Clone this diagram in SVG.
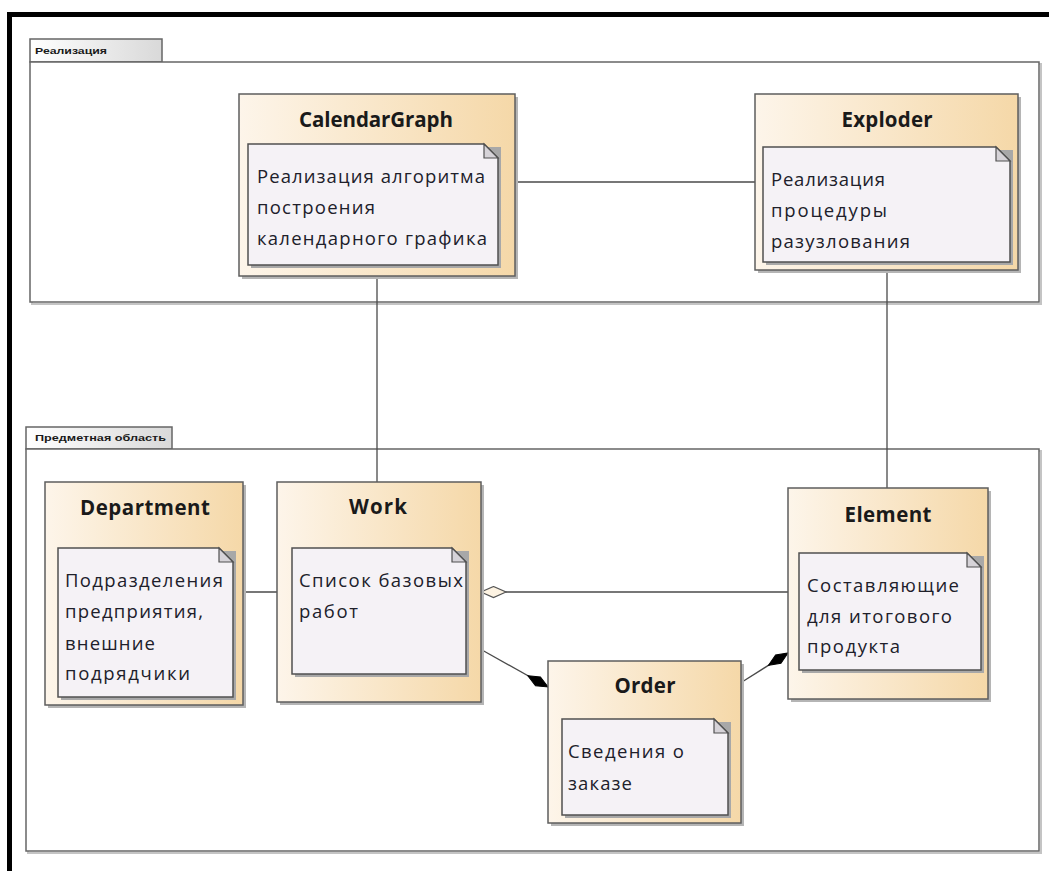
<svg xmlns="http://www.w3.org/2000/svg" width="1049" height="871" viewBox="0 0 1049 871">
  <defs>
    <linearGradient id="nodeFill" x1="0" y1="0" x2="1" y2="0">
      <stop offset="0" stop-color="#fdf5ea"/>
      <stop offset="1" stop-color="#f5d8a8"/>
    </linearGradient>
    <linearGradient id="tabFill" x1="0" y1="0" x2="1" y2="0">
      <stop offset="0" stop-color="#ffffff"/>
      <stop offset="1" stop-color="#d9d9d9"/>
    </linearGradient>
    <marker id="diamondOpen" markerUnits="userSpaceOnUse" viewBox="0 0 27 13" markerWidth="27" markerHeight="13" refX="26" refY="6.5" orient="auto">
      <path d="M1,6.5 L13.5,1 L26,6.5 L13.5,12 Z" fill="#fdf3e2" stroke="#555" stroke-width="1.2"/>
    </marker>
    <marker id="diamondFilled" markerUnits="userSpaceOnUse" viewBox="0 0 25 13" markerWidth="25" markerHeight="13" refX="24" refY="6.5" orient="auto">
      <path d="M1,6.5 L12.5,1.5 L24,6.5 L12.5,11.5 Z" fill="#000" stroke="#000" stroke-width="1"/>
    </marker>
  </defs>
  <style>
    .frame { fill: none; stroke: #000; stroke-width: 5; }
    .pkg { fill: #fff; stroke: #666; stroke-width: 1.5; }
    .pkg-shadow { fill: none; stroke: #c4c4c4; stroke-width: 2; }
    .tab { fill: url(#tabFill); stroke: #666; stroke-width: 1.5; }
    .tab-label { font-family: "Liberation Sans", Arial, sans-serif; font-size: 8.5px; font-weight: bold; fill: #1a1a1a; }
    .node-shadow { fill: #b5b5b5; }
    .node { fill: url(#nodeFill); stroke: #5e5e5e; stroke-width: 1.5; }
    .note-shadow { fill: #a8a8a8; }
    .note { fill: #f5f2f6; stroke: #505050; stroke-width: 1.5; }
    .fold { fill: #d6d3d8; stroke: #505050; stroke-width: 1.2; }
    .title { font-family: "Open Sans", "Noto Sans", sans-serif; font-size: 20.5px; font-weight: bold; fill: #1a1a1a; text-anchor: middle; }
    .body { font-family: "Open Sans", "Noto Sans", sans-serif; font-size: 18.5px; fill: #20202a; }
    .link { fill: none; stroke: #4a4a4a; stroke-width: 1.3; }
  </style>

  <rect width="1049" height="871" fill="#fff"/>

  <!-- diagram frame -->
  <path class="frame" d="M9.5,871 V14.5 H1049"/>

  <!-- packages -->
  <g id="pkg-realization">
    <rect class="pkg-shadow" x="32" y="64" width="1009" height="240"/>
    <rect class="tab" x="30" y="39" width="132" height="23"/>
    <rect class="pkg" x="30" y="62" width="1009" height="240"/>
    <text class="tab-label" x="35" y="54" textLength="72" lengthAdjust="spacingAndGlyphs">Реализация</text>
  </g>
  <g id="pkg-domain">
    <rect class="pkg-shadow" x="28" y="451" width="1013" height="402"/>
    <rect class="tab" x="26" y="427" width="146" height="22"/>
    <rect class="pkg" x="26" y="449" width="1013" height="402"/>
    <text class="tab-label" x="35" y="441" textLength="131" lengthAdjust="spacingAndGlyphs">Предметная область</text>
  </g>

  <!-- connectors -->
  <g id="connectors">
    <path class="link" d="M515,182 H755"/>
    <path class="link" d="M377,276 V482"/>
    <path class="link" d="M887,270 V488"/>
    <path class="link" d="M243,592 H277"/>
    <path class="link" d="M788,592 H481" marker-end="url(#diamondOpen)"/>
    <path class="link" d="M482,650 L548,687" marker-end="url(#diamondFilled)"/>
    <path class="link" d="M742,682 L788,653" marker-end="url(#diamondFilled)"/>
  </g>

  <!-- nodes -->
  <g id="node-calendargraph">
    <rect class="node-shadow" x="242" y="97" width="276" height="182"/>
    <rect class="node" x="239" y="94" width="276" height="182"/>
    <text class="title" x="376" y="127" textLength="154" lengthAdjust="spacing">CalendarGraph</text>
    <rect class="note-shadow" x="251" y="147" width="250" height="121"/>
    <path class="note" d="M248,144 H484 L498,158 V265 H248 Z"/>
    <path class="fold" d="M484,144 V158 H498 Z"/>
    <text class="body" x="257" y="183" textLength="228" lengthAdjust="spacing">Реализация алгоритма</text>
    <text class="body" x="257" y="214" textLength="118" lengthAdjust="spacing">построения</text>
    <text class="body" x="257" y="245" textLength="230" lengthAdjust="spacing">календарного графика</text>
  </g>

  <g id="node-exploder">
    <rect class="node-shadow" x="758" y="97" width="263" height="176"/>
    <rect class="node" x="755" y="94" width="263" height="176"/>
    <text class="title" x="887" y="127" textLength="91" lengthAdjust="spacing">Exploder</text>
    <rect class="note-shadow" x="766" y="150" width="247" height="115"/>
    <path class="note" d="M763,147 H996 L1010,161 V262 H763 Z"/>
    <path class="fold" d="M996,147 V161 H1010 Z"/>
    <text class="body" x="771" y="186" textLength="114" lengthAdjust="spacing">Реализация</text>
    <text class="body" x="771" y="217" textLength="116" lengthAdjust="spacing">процедуры</text>
    <text class="body" x="771" y="248" textLength="139" lengthAdjust="spacing">разузлования</text>
  </g>

  <g id="node-department">
    <rect class="node-shadow" x="48" y="485" width="198" height="223"/>
    <rect class="node" x="45" y="482" width="198" height="223"/>
    <text class="title" x="145" y="515" textLength="130" lengthAdjust="spacing">Department</text>
    <rect class="note-shadow" x="61" y="551" width="175" height="149"/>
    <path class="note" d="M58,548 H219 L233,562 V697 H58 Z"/>
    <path class="fold" d="M219,548 V562 H233 Z"/>
    <text class="body" x="65" y="587" textLength="158" lengthAdjust="spacing">Подразделения</text>
    <text class="body" x="65" y="618" textLength="138" lengthAdjust="spacing">предприятия,</text>
    <text class="body" x="65" y="650" textLength="90" lengthAdjust="spacing">внешние</text>
    <text class="body" x="65" y="680" textLength="125" lengthAdjust="spacing">подрядчики</text>
  </g>

  <g id="node-work">
    <rect class="node-shadow" x="280" y="485" width="204" height="220"/>
    <rect class="node" x="277" y="482" width="204" height="220"/>
    <text class="title" x="378" y="514" textLength="58" lengthAdjust="spacing">Work</text>
    <rect class="note-shadow" x="295" y="551" width="174" height="126"/>
    <path class="note" d="M292,548 H452 L466,562 V674 H292 Z"/>
    <path class="fold" d="M452,548 V562 H466 Z"/>
    <text class="body" x="299" y="587" textLength="164" lengthAdjust="spacing">Список базовых</text>
    <text class="body" x="299" y="618" textLength="59" lengthAdjust="spacing">работ</text>
  </g>

  <g id="node-order">
    <rect class="node-shadow" x="551" y="664" width="193" height="162"/>
    <rect class="node" x="548" y="661" width="193" height="162"/>
    <text class="title" x="645" y="693" textLength="61" lengthAdjust="spacing">Order</text>
    <rect class="note-shadow" x="565" y="722" width="166" height="96"/>
    <path class="note" d="M562,719 H714 L728,733 V815 H562 Z"/>
    <path class="fold" d="M714,719 V733 H728 Z"/>
    <text class="body" x="568" y="758" textLength="116" lengthAdjust="spacing">Сведения о</text>
    <text class="body" x="568" y="790" textLength="64" lengthAdjust="spacing">заказе</text>
  </g>

  <g id="node-element">
    <rect class="node-shadow" x="791" y="491" width="200" height="211"/>
    <rect class="node" x="788" y="488" width="200" height="211"/>
    <text class="title" x="888" y="522" textLength="87" lengthAdjust="spacing">Element</text>
    <rect class="note-shadow" x="802" y="556" width="182" height="117"/>
    <path class="note" d="M799,553 H967 L981,567 V670 H799 Z"/>
    <path class="fold" d="M967,553 V567 H981 Z"/>
    <text class="body" x="807" y="592" textLength="152" lengthAdjust="spacing">Составляющие</text>
    <text class="body" x="807" y="623" textLength="145" lengthAdjust="spacing">для итогового</text>
    <text class="body" x="807" y="653" textLength="93" lengthAdjust="spacing">продукта</text>
  </g>
</svg>
